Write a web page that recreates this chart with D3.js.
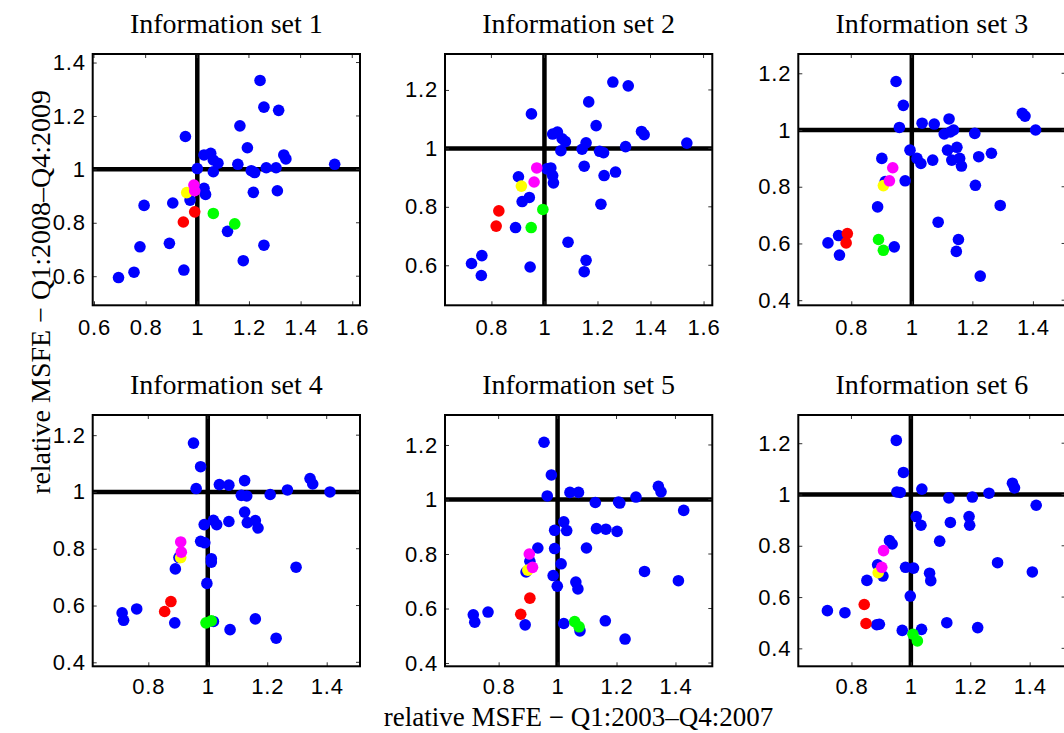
<!DOCTYPE html>
<html><head><meta charset="utf-8">
<script src="https://cdn.jsdelivr.net/npm/d3@7"></script>
<style>body{margin:0;background:#fff} svg{display:block}</style>
</head><body><svg id="c" width="1064" height="733"></svg>
<script>
const titles = ["Information set 1","Information set 2","Information set 3","Information set 4","Information set 5","Information set 6"];
const xLabel = "relative MSFE − Q1:2003–Q4:2007";
const yLabel = "relative MSFE − Q1:2008–Q4:2009";

const xDomains = [[0.595,1.63],[0.625,1.633],[0.625,1.508],[0.613,1.512],[0.618,1.525],[0.621,1.521]];
const yDomains = [[0.491,1.432],[0.463,1.323],[0.382,1.268],[0.386,1.271],[0.388,1.310],[0.330,1.310]];
const xTicks = [[0.6,0.8,1,1.2,1.4,1.6],[0.8,1,1.2,1.4,1.6],[0.8,1,1.2,1.4],[0.8,1,1.2,1.4],[0.8,1,1.2,1.4],[0.8,1,1.2,1.4]];
const yTicks = [[0.6,0.8,1,1.2,1.4],[0.6,0.8,1,1.2],[0.4,0.6,0.8,1,1.2],[0.4,0.6,0.8,1,1.2],[0.4,0.6,0.8,1,1.2],[0.4,0.6,0.8,1,1.2]];

// Information set 1
const set1Blue = [[1.243,1.333],[1.258,1.233],[1.315,1.221],[1.165,1.163],[0.954,1.123],[1.194,1.081],[1.026,1.054],[1.052,1.060],[1.062,1.035],[1.080,1.023],[1.157,1.019],[1.335,1.054],[1.343,1.039],[1.532,1.019],[1.0,1.003],[1.062,0.991],[1.209,0.995],[1.222,0.988],[1.267,1.006],[1.305,1.006],[1.026,0.929],[1.032,0.906],[1.217,0.914],[1.310,0.920],[0.972,0.885],[0.905,0.874],[0.794,0.865],[1.117,0.768],[1.258,0.716],[0.778,0.710],[0.892,0.723],[1.178,0.658],[0.948,0.623],[0.755,0.615],[0.695,0.595]];
const set1Yellow = [[0.959,0.913]];
const set1Magenta = [[0.987,0.941],[0.990,0.920]];
const set1Red = [[0.990,0.841],[0.946,0.803]];
const set1Green = [[1.062,0.835],[1.145,0.796]];

// Information set 2
const set2Blue = [[1.258,1.227],[1.316,1.214],[1.167,1.159],[0.951,1.118],[1.195,1.078],[1.031,1.049],[1.049,1.056],[1.067,1.033],[1.079,1.023],[1.157,1.019],[1.366,1.058],[1.376,1.047],[1.537,1.018],[1.062,0.992],[1.142,0.997],[1.208,0.990],[1.223,0.985],[1.306,1.006],[1.009,0.930],[1.024,0.933],[1.031,0.907],[1.034,0.882],[1.150,0.939],[1.225,0.907],[1.268,0.919],[0.902,0.903],[0.916,0.818],[0.943,0.832],[1.213,0.809],[0.891,0.729],[1.089,0.679],[1.157,0.617],[1.150,0.578],[0.946,0.594],[0.725,0.606],[0.764,0.633],[0.762,0.565]];
const set2Yellow = [[0.913,0.871]];
const set2Magenta = [[0.971,0.933],[0.961,0.885]];
const set2Red = [[0.828,0.786],[0.818,0.734]];
const set2Green = [[0.994,0.791],[0.950,0.729]];

// Information set 3
const set3Blue = [[0.948,1.171],[0.972,1.087],[0.959,1.009],[1.034,1.024],[1.074,1.021],[1.123,1.039],[1.107,0.986],[1.127,0.993],[1.138,1.0],[1.208,0.988],[1.365,1.059],[1.374,1.049],[1.409,1.0],[0.994,0.929],[1.017,0.900],[1.030,0.882],[1.069,0.894],[1.118,0.929],[1.149,0.939],[1.132,0.894],[1.158,0.900],[1.164,0.873],[1.221,0.906],[1.263,0.918],[0.901,0.900],[0.912,0.818],[0.978,0.821],[1.210,0.805],[0.887,0.729],[1.292,0.734],[1.087,0.675],[1.154,0.614],[1.147,0.572],[1.226,0.485],[0.942,0.588],[0.723,0.602],[0.758,0.628],[0.761,0.559]];
const set3Yellow = [[0.906,0.804]];
const set3Magenta = [[0.937,0.867],[0.926,0.821]];
const set3Red = [[0.787,0.635],[0.783,0.602]];
const set3Green = [[0.890,0.614],[0.906,0.576]];

// Information set 4
const set4Blue = [[0.952,1.172],[0.976,1.089],[0.961,1.012],[1.039,1.026],[1.071,1.024],[1.124,1.040],[1.113,0.988],[1.131,0.986],[1.210,0.991],[1.268,1.007],[1.344,1.047],[1.353,1.028],[1.411,1.0],[1.124,0.929],[1.019,0.900],[1.030,0.885],[1.071,0.896],[0.988,0.885],[1.133,0.892],[1.160,0.899],[1.169,0.873],[0.976,0.826],[0.990,0.821],[0.903,0.769],[1.012,0.765],[1.012,0.753],[0.891,0.729],[1.297,0.735],[0.997,0.678],[1.160,0.553],[1.075,0.515],[1.230,0.485],[1.019,0.544],[0.889,0.539],[0.712,0.574],[0.717,0.548],[0.761,0.588]];
const set4Yellow = [[0.909,0.769]];
const set4Magenta = [[0.909,0.824],[0.911,0.788]];
const set4Red = [[0.876,0.614],[0.855,0.579]];
const set4Green = [[0.994,0.539],[1.012,0.546]];

// Information set 5
const set5Blue = [[0.954,1.210],[0.979,1.090],[0.965,1.013],[1.042,1.026],[1.071,1.026],[1.128,0.989],[1.207,0.991],[1.211,0.987],[1.266,1.009],[1.342,1.048],[1.351,1.028],[1.428,0.960],[1.021,0.918],[0.990,0.887],[1.031,0.886],[1.132,0.893],[1.164,0.891],[1.202,0.883],[0.933,0.822],[0.990,0.820],[1.098,0.822],[0.906,0.773],[1.012,0.764],[0.893,0.734],[0.985,0.721],[0.999,0.682],[1.062,0.697],[1.069,0.672],[1.295,0.736],[1.410,0.702],[1.162,0.555],[1.021,0.545],[1.076,0.518],[1.229,0.488],[0.890,0.540],[0.714,0.577],[0.719,0.550],[0.764,0.587]];
const set5Yellow = [[0.899,0.741]];
const set5Magenta = [[0.904,0.800],[0.915,0.751]];
const set5Red = [[0.906,0.638],[0.875,0.579]];
const set5Green = [[1.058,0.552],[1.073,0.533]];

// Information set 6
const set6Blue = [[0.951,1.211],[0.975,1.086],[0.953,1.010],[0.964,1.008],[1.037,1.021],[1.128,0.987],[1.207,0.990],[1.263,1.005],[1.342,1.044],[1.349,1.026],[1.422,0.958],[1.018,0.914],[1.034,0.880],[1.133,0.891],[1.196,0.914],[1.198,0.880],[0.928,0.820],[0.937,0.807],[1.097,0.818],[0.888,0.726],[0.906,0.682],[0.852,0.665],[0.982,0.716],[1.009,0.713],[1.063,0.693],[1.067,0.664],[1.292,0.734],[1.409,0.698],[0.998,0.604],[1.121,0.500],[1.225,0.481],[1.036,0.474],[0.971,0.470],[0.885,0.492],[0.894,0.494],[0.719,0.547],[0.778,0.539]];
const set6Yellow = [[0.890,0.695]];
const set6Magenta = [[0.908,0.781],[0.902,0.716]];
const set6Red = [[0.843,0.571],[0.849,0.497]];
const set6Green = [[1.007,0.455],[1.022,0.429]];

const panelsData = [
  [set1Blue,set1Yellow,set1Magenta,set1Red,set1Green],
  [set2Blue,set2Yellow,set2Magenta,set2Red,set2Green],
  [set3Blue,set3Yellow,set3Magenta,set3Red,set3Green],
  [set4Blue,set4Yellow,set4Magenta,set4Red,set4Green],
  [set5Blue,set5Yellow,set5Magenta,set5Red,set5Green],
  [set6Blue,set6Yellow,set6Magenta,set6Red,set6Green]
];
const groupColors = ["#0000ff","#ffff00","#ff00ff","#ff0000","#00ff00"];

const svg = d3.select("#c");
const colLeft = [92.7, 445, 798.3];
const rowTop = [54, 415];
const W = 267.3, H = 251.3;
const fmt = d => d === 1 ? "1" : d.toFixed(1);
const tickFont = "'Liberation Sans',Arial,Helvetica,sans-serif";

panelsData.forEach((groups, i) => {
  const row = Math.floor(i / 3);
  const L = colLeft[i % 3], T = rowTop[row];
  const g = svg.append("g").attr("transform", `translate(${L},${T})`);
  const x = d3.scaleLinear().domain(xDomains[i]).range([0, W]);
  const y = d3.scaleLinear().domain(yDomains[i]).range([H, 0]);

  // title
  svg.append("text").attr("x", L + W / 2).attr("y", T - 21)
    .attr("text-anchor", "middle")
    .attr("font-family", "'Liberation Serif','Times New Roman',serif")
    .attr("font-size", 28).text(titles[i]);

  // reference lines at 1
  g.append("line").attr("x1", x(1)).attr("x2", x(1)).attr("y1", 0).attr("y2", H)
    .attr("stroke", "#000").attr("stroke-width", 4.5);
  g.append("line").attr("x1", 0).attr("x2", W).attr("y1", y(1)).attr("y2", y(1))
    .attr("stroke", "#000").attr("stroke-width", 4.5);

  // axes
  const ax = g.append("g").attr("transform", `translate(0,${H})`)
    .call(d3.axisBottom(x).tickValues(xTicks[i]).tickFormat(fmt).tickSize(-4).tickPadding(row === 1 ? 12.5 : 14));
  const ay = g.append("g")
    .call(d3.axisLeft(y).tickValues(yTicks[i]).tickFormat(fmt).tickSize(-4).tickPadding(7));
  [ax, ay].forEach(a => {
    a.attr("font-size", 22).attr("font-family", tickFont);
    a.select(".domain").remove();
    a.selectAll("line").attr("stroke", "#333").attr("stroke-width", 1);
    a.selectAll("text").attr("font-family", tickFont)
      .attr("font-size", 22).attr("letter-spacing", 0.8).attr("fill", "#000");
  });
  // mirror ticks (top, right)
  g.selectAll(".tt").data(xTicks[i]).enter().append("line")
    .attr("x1", d => x(d)).attr("x2", d => x(d)).attr("y1", 0).attr("y2", 4)
    .attr("stroke", "#333");
  g.selectAll(".rt").data(yTicks[i]).enter().append("line")
    .attr("x1", W).attr("x2", W - 4).attr("y1", d => y(d)).attr("y2", d => y(d))
    .attr("stroke", "#333");

  // box
  g.append("rect").attr("x", 0).attr("y", 0).attr("width", W).attr("height", H)
    .attr("fill", "none").attr("stroke", "#000").attr("stroke-width", 2);

  // points
  groups.forEach((pts, k) => {
    g.append("g").selectAll("circle").data(pts).enter().append("circle")
      .attr("cx", d => x(d[0])).attr("cy", d => y(d[1])).attr("r", 5.8)
      .attr("fill", groupColors[k]);
  });
});

// axis labels
svg.append("text").attr("x", 578.5).attr("y", 725.5).attr("text-anchor", "middle")
  .attr("font-family", "'Liberation Serif','Times New Roman',serif")
  .attr("font-size", 27).text(xLabel);
svg.append("text").attr("transform", "translate(50,292) rotate(-90)")
  .attr("text-anchor", "middle")
  .attr("font-family", "'Liberation Serif','Times New Roman',serif")
  .attr("font-size", 28).text(yLabel);
</script></body></html>
